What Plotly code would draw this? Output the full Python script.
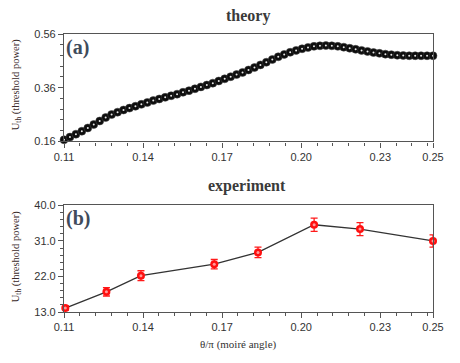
import numpy as np
import plotly.graph_objects as go

W, H = 460, 363

# ---- data ----
theory_x = list(np.round(np.linspace(0.11, 0.25, 63), 5))
theory_y = [0.166, 0.176, 0.187, 0.198, 0.210, 0.223, 0.236, 0.249, 0.260, 0.269,
            0.277, 0.284, 0.291, 0.298, 0.305, 0.312, 0.318, 0.324, 0.330, 0.336,
            0.343, 0.349, 0.356, 0.363, 0.370, 0.377, 0.385, 0.393, 0.401, 0.409,
            0.417, 0.426, 0.435, 0.445, 0.455, 0.465, 0.475, 0.484, 0.492, 0.499,
            0.505, 0.510, 0.514, 0.516, 0.517, 0.516, 0.514, 0.511, 0.507, 0.503,
            0.499, 0.495, 0.491, 0.488, 0.485, 0.483, 0.481, 0.480, 0.479, 0.479,
            0.479, 0.479, 0.479]

exp_x = [0.1105, 0.1261, 0.1392, 0.1670, 0.1836, 0.2049, 0.2223, 0.2500]
exp_y = [14.0, 18.1, 22.2, 25.1, 28.1, 35.1, 34.0, 31.0]
exp_err = [0.6, 1.05, 1.25, 1.2, 1.35, 1.7, 1.65, 1.55]

x_ticks = [0.11, 0.14, 0.17, 0.20, 0.23, 0.25]
x_tick_text = ["0.11", "0.14", "0.17", "0.20", "0.23", "0.25"]
top_y_ticks = [0.16, 0.36, 0.56]
top_y_text = ["0.16", "0.36", "0.56"]
bot_y_ticks = [13.0, 22.0, 31.0, 40.0]
bot_y_text = ["13.0", "22.0", "31.0", "40.0"]

# ---- layout geometry ----
# the page body adds an 8px offset, so reference pixel positions are shifted back by it
OFF = 8
L, R, T, B = 63.5 - OFF, 460 - 432.7 + OFF, 34.3 - OFF, 363 - 312.3 + OFF
PW, PH = W - L - R, H - T - B

def px_x(p):
    return (p - OFF - L) / PW

def px_y(p):
    return (H - B - (p - OFF)) / PH

top_dom = [px_y(141.7), 1.0]
bot_dom = [0.0, px_y(205.7)]

fig = go.Figure()

fig.add_trace(go.Scatter(
    x=theory_x, y=theory_y, mode="markers",
    marker=dict(size=8, color="#0d0d0d", line=dict(width=0.5, color="#444444")),
    xaxis="x", yaxis="y", showlegend=False, cliponaxis=False,
))
fig.add_trace(go.Scatter(
    x=theory_x, y=theory_y, mode="markers",
    marker=dict(size=2, color="#e8e8e8"),
    xaxis="x", yaxis="y", showlegend=False, cliponaxis=False,
))

fig.add_trace(go.Scatter(
    x=exp_x, y=exp_y, mode="lines",
    line=dict(color="#333333", width=1.3),
    xaxis="x2", yaxis="y2", showlegend=False,
))
fig.add_trace(go.Scatter(
    x=exp_x, y=exp_y, mode="markers",
    error_y=dict(type="data", array=exp_err, color="#ff1a1a", thickness=1.3, width=3.5),
    marker=dict(size=8, color="#ff1010", line=dict(width=0)),
    xaxis="x2", yaxis="y2", showlegend=False, cliponaxis=False,
))
fig.add_trace(go.Scatter(
    x=exp_x, y=exp_y, mode="markers",
    marker=dict(size=3, color="#ff9a9a"),
    xaxis="x2", yaxis="y2", showlegend=False, cliponaxis=False,
))

tick_font = dict(family="Liberation Sans, Arial, sans-serif", size=11, color="#333333")
line_col = "#555555"

common_x = dict(
    range=[0.11, 0.25], domain=[0, 1], tickmode="array", tickvals=x_ticks,
    ticktext=x_tick_text, ticks="outside", ticklen=5, tickwidth=1, tickcolor=line_col,
    showline=True, linecolor=line_col, linewidth=1.2, mirror=True, showgrid=False,
    zeroline=False, tickfont=tick_font, automargin=False,
    minor=dict(ticks="outside", ticklen=3, tickcolor=line_col, dtick=0.006, tick0=0.11, showgrid=False),
)
common_y = dict(
    ticks="outside", ticklen=5, tickwidth=1, tickcolor=line_col,
    showline=True, linecolor=line_col, linewidth=1.2, mirror=True, showgrid=False,
    zeroline=False, tickfont=tick_font, tickmode="array", automargin=False,
)

fig.update_layout(
    width=W, height=H, margin=dict(l=L, r=R, t=T, b=B, autoexpand=False),
    paper_bgcolor="white", plot_bgcolor="white",
    xaxis=dict(anchor="y", **common_x),
    yaxis=dict(anchor="x", domain=top_dom, range=[0.16, 0.56], tickvals=top_y_ticks,
               ticktext=top_y_text,
               minor=dict(ticks="outside", ticklen=3, tickcolor=line_col, dtick=0.04, tick0=0.16),
               **common_y),
    xaxis2=dict(anchor="y2", **common_x),
    yaxis2=dict(anchor="x2", domain=bot_dom, range=[13, 40], tickvals=bot_y_ticks,
                ticktext=bot_y_text,
                minor=dict(ticks="outside", ticklen=3, tickcolor=line_col, dtick=1.8, tick0=13),
                **common_y),
)

serif = "Liberation Serif, Times New Roman, serif"

def text_at(text, xp, yp, size, color, xanchor="center", yanchor="middle", angle=0):
    return dict(text=text, x=px_x(xp), y=px_y(yp), xref="paper", yref="paper",
                xanchor=xanchor, yanchor=yanchor, textangle=angle, showarrow=False,
                font=dict(family=serif, size=size, color=color))

ann = [
    text_at("<b>theory</b>", 248, 16, 16, "#3a3a3a"),
    text_at("<b>experiment</b>", 247, 186, 16, "#3a3a3a"),
    text_at("<b>(a)</b>", 64, 34, 20, "#3f4b5b", xanchor="left", yanchor="top"),
    text_at("<b>(b)</b>", 64, 205, 20, "#3f4b5b", xanchor="left", yanchor="top"),
    text_at("θ/π (moiré angle)", 238, 345, 11, "#333333"),
]
ylab = "U<sub>th</sub> (threshold power)"
for yc in (85, 257):
    ann.append(text_at(ylab, 16, yc, 10.5, "#3a2a2a", angle=-90))
fig.update_layout(annotations=ann)

fig.write_html("out.html")
